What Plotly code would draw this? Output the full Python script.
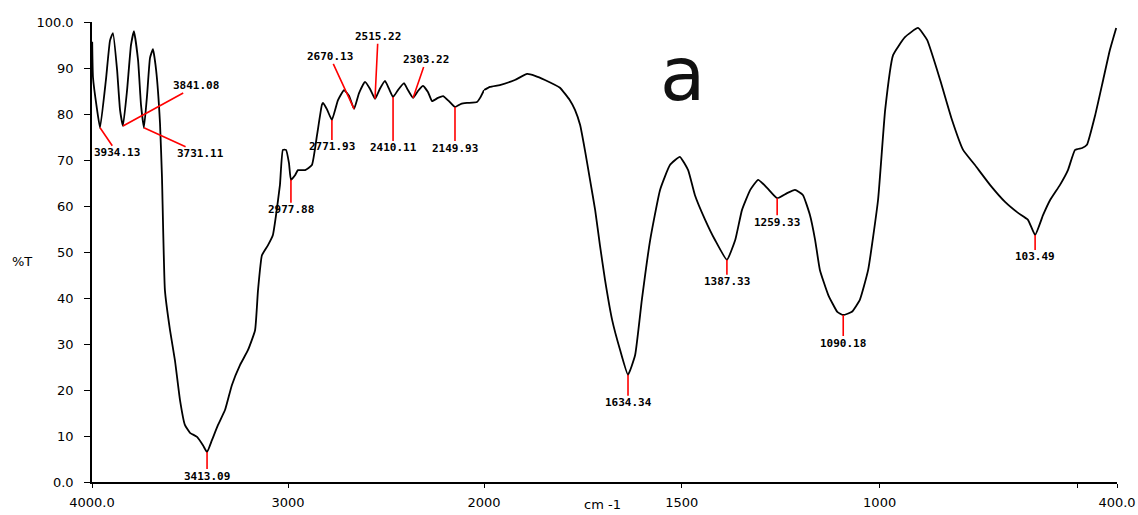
import numpy as np
import plotly.graph_objects as go

# ---- spectrum data (wavenumber cm-1, %T) ----
wavenumber = [
    3999, 3995, 3976, 3959, 3929, 3908, 3893, 3872, 3857, 3842, 3821, 3801, 3786,
    3765, 3750, 3735, 3719, 3704, 3689, 3673, 3653, 3643, 3628, 3602, 3577, 3551,
    3526, 3500, 3464, 3434, 3413, 3388, 3357, 3321, 3286, 3245, 3204, 3168, 3153,
    3133, 3102, 3077, 3061, 3041, 3026, 3010, 2995, 2985, 2964, 2949, 2913, 2878,
    2852, 2827, 2821, 2801, 2776, 2745, 2714, 2689, 2663, 2638, 2607, 2582, 2556,
    2531, 2505, 2485, 2464, 2439, 2408, 2388, 2362, 2337, 2311, 2286, 2265, 2235,
    2209, 2179, 2148, 2117, 2087, 2036, 2020, 2000,
    1985, 1960, 1922, 1891, 1871, 1846, 1808, 1783, 1770, 1757, 1745, 1732, 1719,
    1707, 1694, 1676, 1656, 1636, 1618, 1601, 1580, 1555, 1530, 1505, 1484, 1467,
    1441, 1416, 1386, 1365, 1348, 1327, 1307, 1284, 1259, 1234, 1214, 1194, 1176,
    1163, 1151, 1130, 1107, 1092, 1070, 1050, 1029, 1004, 986, 966, 936, 903, 880,
    847, 817, 789, 759, 721, 683, 650, 625, 607, 587, 569, 544, 524, 506, 488, 476,
    455, 435, 418, 402,
]
transmittance = [
    95.7, 88.0, 81.5, 77.0, 87.4, 96.0, 97.6, 89.6, 80.9, 77.4, 85.2, 95.0, 98.0,
    91.7, 82.0, 77.0, 84.1, 92.2, 94.1, 89.6, 78.0, 66.3, 41.7, 33.0, 26.5, 17.8,
    12.4, 10.7, 9.8, 8.0, 6.5, 9.1, 12.4, 15.7, 21.1, 25.4, 28.7, 33.0, 41.7,
    49.3, 51.5, 53.7, 58.0, 64.6, 72.2, 72.2, 69.3, 65.7, 66.7, 67.8, 67.8, 68.9,
    75.4, 82.0, 82.4, 81.0, 78.7, 83.0, 85.2, 84.0, 81.1, 84.5, 87.0, 85.5, 83.3,
    85.5, 87.2, 85.5, 83.7, 85.2, 86.7, 85.2, 83.5, 85.0, 86.1, 84.8, 82.8, 83.5,
    83.9, 82.8, 81.5, 82.2, 82.4, 82.6, 83.5, 85.2,
    85.9, 86.3, 87.4, 88.7, 88.3, 87.4, 85.7, 83.0, 80.9, 77.6, 72.2, 65.7, 59.1,
    51.5, 43.9, 35.2, 28.7, 23.3, 27.6, 39.6, 52.6, 63.5, 68.9, 70.7, 67.8, 62.4,
    57.0, 52.6, 48.3, 52.6, 59.1, 63.5, 65.7, 63.9, 61.7, 62.8, 63.5, 62.4, 58.0,
    52.6, 46.1, 40.7, 37.0, 36.3, 37.0, 39.6, 46.1, 61.3, 80.9, 92.8, 96.7, 98.7, 96.1,
    87.4, 78.7, 72.2, 68.9, 64.6, 60.9, 58.5, 57.0, 53.7, 58.0, 61.3, 64.6, 67.8, 72.2, 72.6, 73.3,
    79.8, 87.4, 93.9, 98.7,
]

# ---- peak picks ----
peak_wn = [3959, 3842, 3735, 3413, 2985, 2776, 2663, 2556, 2464, 2362, 2148,
           1636, 1386, 1259, 1092, 607]
peak_labels = ["3934.13", "3841.08", "3731.11", "3413.09", "2977.88", "2771.93",
               "2670.13", "2515.22", "2410.11", "2303.22", "2149.93",
               "1634.34", "1387.33", "1259.33", "1090.18", "103.49"]

# ---- axis ticks ----
y_ticks = [0, 10, 20, 30, 40, 50, 60, 70, 80, 90, 100]
y_ticktext = ["0.0", "10", "20", "30", "40", "50", "60", "70", "80", "90", "100.0"]
x1_ticks = [4000, 3000]
x1_ticktext = ["4000.0", "3000"]
x2_ticks = [2000, 1500, 1000, 500, 400]
x2_ticktext = ["2000", "1500", "1000", "", "400.0"]

# label offsets (pixels) for peak annotations: layout only
label_offsets = [(17, 25), (73, -40), (57, 26), (0, 24), (0, 30), (0, 27),
                 (-24, -52), (3, -62), (0, 51), (13, -38), (0, 41),
                 (0, 28), (0, 22), (0, 24), (0, 28), (0, 22)]

wn = np.array(wavenumber, dtype=float)
tt = np.array(transmittance, dtype=float)
hi = wn >= 2000
lo = wn <= 2000

fig = go.Figure()
line_style = dict(color="black", width=1.8, shape="spline", smoothing=0.4)
fig.add_trace(go.Scatter(x=wn[hi], y=tt[hi], mode="lines", line=line_style,
                         xaxis="x", yaxis="y", showlegend=False, hoverinfo="skip"))
fig.add_trace(go.Scatter(x=wn[lo], y=tt[lo], mode="lines", line=line_style,
                         xaxis="x2", yaxis="y", showlegend=False, hoverinfo="skip"))

order = np.argsort(wn)
for w, lab, (ax, ay) in zip(peak_wn, peak_labels, label_offsets):
    yv = float(np.interp(w, wn[order], tt[order]))
    fig.add_annotation(
        x=w, y=yv, xref="x" if w > 2000 else "x2", yref="y",
        text="<b>" + lab + "</b>", showarrow=True, arrowhead=0, arrowwidth=1.6,
        arrowcolor="#ff0000", ax=ax, ay=ay, standoff=0, borderpad=0,
        font=dict(family="DejaVu Sans Mono", size=11, color="black"),
    )

W, H = 1138, 515
ml, mr, mt, mb = 92, 21, 22, 33
pw, ph = W - ml - mr, H - mt - mb


def px_to_paper(px, py):
    return (px - ml) / pw, 1 - (py - mt) / ph


ax_a, ay_a = px_to_paper(682, 74)
fig.add_annotation(text="a", x=ax_a, y=ay_a, xref="paper", yref="paper",
                   showarrow=False, xanchor="center", yanchor="middle",
                   font=dict(family="DejaVu Sans", size=74, color="#111"))
px_T, py_T = px_to_paper(22, 261)
px_c, py_c = px_to_paper(602, 514)
fig.add_annotation(text="%T", x=px_T, y=py_T, xref="paper", yref="paper",
                   showarrow=False, xanchor="center", yanchor="middle",
                   font=dict(family="DejaVu Sans", size=13, color="black"))
fig.add_annotation(text="cm -1", x=px_c, y=py_c, xref="paper", yref="paper",
                   showarrow=False, xanchor="center", yanchor="bottom",
                   font=dict(family="DejaVu Sans", size=13, color="black"))

split = 392 / 1025
tickfont = dict(family="DejaVu Sans", size=13, color="black")
fig.update_layout(
    width=W, height=H, autosize=False,
    margin=dict(l=ml, r=mr, t=mt, b=mb, autoexpand=False),
    paper_bgcolor="white", plot_bgcolor="white",
    xaxis=dict(domain=[0, split], range=[4000, 2000], tickvals=x1_ticks,
               ticktext=x1_ticktext, showline=True, linecolor="black", linewidth=1.5,
               ticks="outside", ticklen=4, tickcolor="black", showgrid=False,
               zeroline=False, tickfont=tickfont, anchor="y", ticklabelstandoff=4),
    xaxis2=dict(domain=[split, 1], range=[2000, 400], tickvals=x2_ticks,
                ticktext=x2_ticktext, showline=True, linecolor="black", linewidth=1.5,
                ticks="outside", ticklen=4, tickcolor="black", showgrid=False,
                zeroline=False, tickfont=tickfont, anchor="y", ticklabelstandoff=4),
    yaxis=dict(range=[0, 100], tickvals=y_ticks, ticktext=y_ticktext,
               showline=True, linecolor="black", linewidth=1.5, ticks="outside",
               ticklen=6, tickcolor="black", showgrid=False, zeroline=False,
               tickfont=tickfont, ticklabelstandoff=8),
)

fig.write_html("out.html", config={"responsive": False, "displayModeBar": False},
               post_script="document.body.style.margin='0';document.body.style.overflow='hidden';")
